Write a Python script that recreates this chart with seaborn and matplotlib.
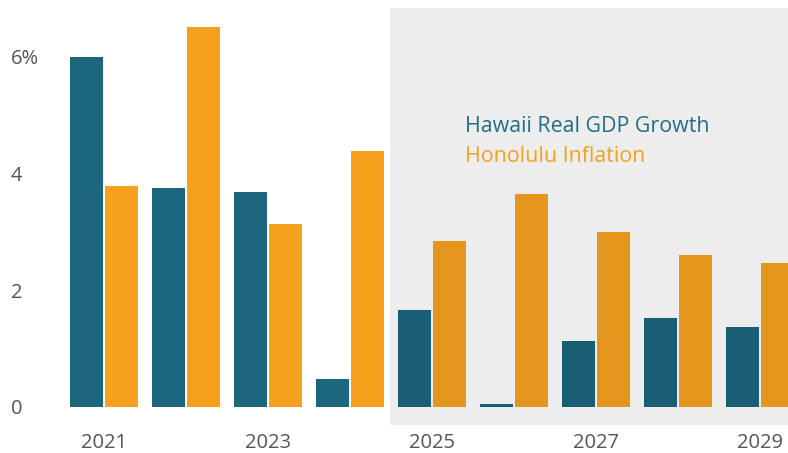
import matplotlib
matplotlib.use("Agg")
import matplotlib.pyplot as plt
import seaborn as sns
import pandas as pd

years = ["2021", "2022", "2023", "2024", "2025", "2026", "2027", "2028", "2029"]
gdp_growth = [6.0, 3.76, 3.69, 0.48, 1.66, 0.05, 1.13, 1.53, 1.37]
inflation = [3.79, 6.52, 3.14, 4.39, 2.85, 3.65, 3.0, 2.61, 2.47]
series_names = ["Hawaii Real GDP Growth", "Honolulu Inflation"]
ytick_vals = [0, 2, 4, 6]
ytick_labels = ["0", "2", "4", "6%"]
xtick_labels = ["2021", "2023", "2025", "2027", "2029"]

teal = "#1d6680"
orange = "#f6a11e"

df = pd.DataFrame({
    "year": years * 2,
    "value": gdp_growth + inflation,
    "series": [series_names[0]] * len(years) + [series_names[1]] * len(years),
})

sns.set_style("white")
plt.rcParams["font.family"] = ["Open Sans", "DejaVu Sans"]

fig = plt.figure(figsize=(7.88, 4.53), dpi=100)
ax = fig.add_axes([45 / 788, (453 - 425) / 453, 743 / 788, 417 / 453])

sns.barplot(data=df, x="year", y="value", hue="series", order=years,
            hue_order=series_names, palette=[teal, orange], width=0.86,
            gap=0.05, saturation=1, legend=False, ax=ax, zorder=2,
            linewidth=0)

ax.set_xlim(-0.72, 8.34)
ax.set_ylim(-0.31, 6.84)
ax.axvspan(3.49, 9, color="black", alpha=0.072, lw=0, zorder=3)

for s in ax.spines.values():
    s.set_visible(False)
ax.grid(False)

ax.set_yticks(ytick_vals)
ax.set_yticklabels(ytick_labels)
ax.set_xticks([0, 2, 4, 6, 8])
ax.set_xticklabels(xtick_labels)
ax.tick_params(axis="both", length=0, labelsize=14.5, labelcolor="#555555")
ax.tick_params(axis="y", pad=24.5)
ax.tick_params(axis="x", pad=5.5)
for lab in ax.get_yticklabels():
    lab.set_horizontalalignment("left")
ax.set_xlabel("")
ax.set_ylabel("")

ax.text(0.565, 0.715, series_names[0], transform=ax.transAxes, color="#236e87",
        fontsize=15.4, va="center", ha="left", zorder=5)
ax.text(0.565, 0.645, series_names[1], transform=ax.transAxes, color="#f5a11d",
        fontsize=15.4, va="center", ha="left", zorder=5)

fig.savefig("out.png", dpi=100)
